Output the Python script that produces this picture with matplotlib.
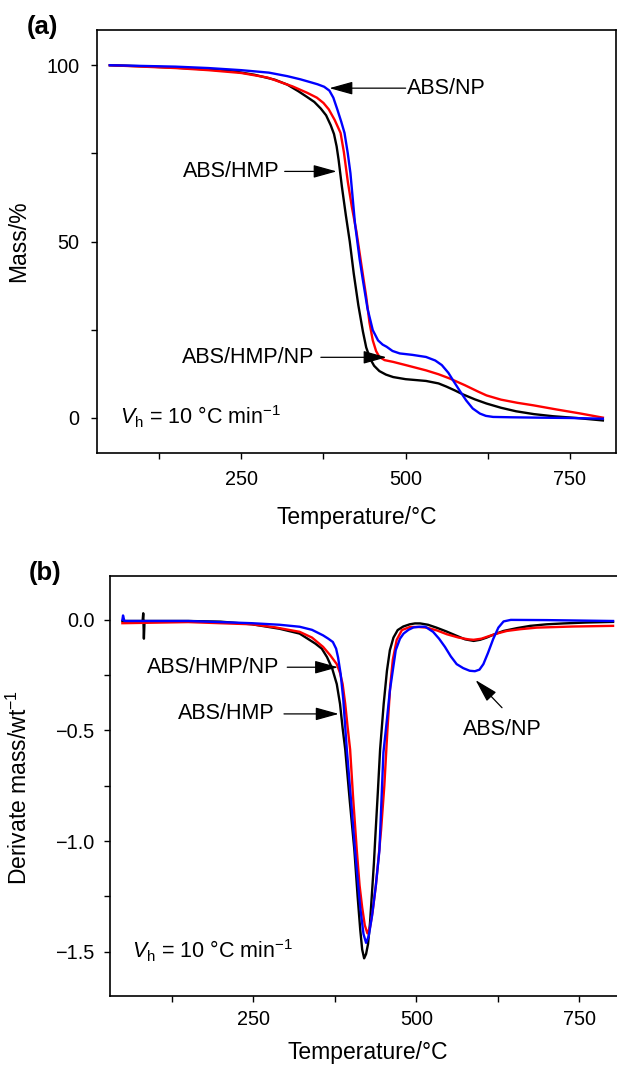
import matplotlib
matplotlib.use("Agg")
import matplotlib.pyplot as plt
from matplotlib.ticker import FixedLocator

plt.rcParams['font.family'] = ['Liberation Sans', 'DejaVu Sans']
plt.rcParams['mathtext.fontset'] = 'custom'
plt.rcParams['mathtext.rm'] = 'Liberation Sans'
plt.rcParams['mathtext.it'] = 'Liberation Sans:italic'
plt.rcParams['mathtext.bf'] = 'Liberation Sans:bold'

# ---- (a) TGA mass curves ----
t_hmp_a = [50, 100, 150, 200, 241, 270, 301, 320, 337, 350, 361, 371, 379, 386, 391, 395,
           398, 403, 409, 415, 421, 428, 435, 440, 446, 452, 460, 470, 481, 500, 531, 550,
           562, 575, 587, 605, 623, 645, 668, 695, 724, 760, 800]
m_hmp = [100, 99.7, 99.3, 98.8, 98.2, 97.3, 95.9, 94.5, 92.6, 91, 89.6, 87.7, 85.8, 83,
         80.5, 77, 73.2, 65.6, 57.5, 50, 41, 32, 24.5, 20, 16.8, 14.8, 13.3, 12.3, 11.6, 11,
         10.5, 9.8, 8.9, 7.8, 6.7, 5.3, 4.1, 2.9, 1.9, 1.1, 0.5, 0, -0.7]

t_hmpnp_a = [50, 100, 150, 200, 250, 290, 328, 350, 365, 375, 383, 392, 401, 406, 412, 418,
             425, 433, 440, 445, 450, 455, 460, 468, 481, 500, 531, 550, 567, 590, 610, 623,
             645, 670, 694, 730, 765, 800]
m_hmpnp = [100, 99.6, 99.2, 98.6, 97.8, 96.5, 94, 92.2, 90.8, 89.3, 87.5, 84.5, 80.8, 75.4,
           67, 60, 53, 43, 34.4, 27, 22, 19, 17.3, 16.4, 15.9, 15, 13.5, 12.4, 11.2, 9.3, 7.5,
           6.4, 5.2, 4.3, 3.6, 2.4, 1.3, 0.1]

t_np_a = [50, 100, 150, 200, 250, 292, 320, 340, 355, 366, 376, 384, 390, 396, 402, 407,
          412, 416, 423, 430, 435, 442, 450, 458, 465, 471, 480, 491, 510, 531, 545, 555,
          565, 572, 582, 592, 602, 613, 622, 633, 660, 700, 750, 800]
m_np = [100, 99.8, 99.6, 99.2, 98.6, 97.9, 96.9, 96, 95.2, 94.6, 93.9, 92.8, 90.8, 87.5, 84,
        80.8, 75, 69.4, 55, 45, 39, 31, 24.9, 22, 20.8, 20.2, 19, 18.3, 17.9, 17.3, 16.3, 15,
        12.8, 10.7, 7.8, 5, 2.7, 1.25, 0.6, 0.3, 0.2, 0.1, 0, -0.2]

# ---- (b) DTG curves ----
t_hmp_b = [49, 80, 81, 82, 83, 150, 200, 248, 290, 321, 345, 355, 363, 371, 378, 383, 387,
           391, 398, 405, 410, 414, 417, 420, 423, 426, 429, 432, 435, 437, 441, 444.5, 450,
           455, 459.5, 465, 471.5, 480, 490, 498, 506, 518, 531, 546, 562, 575, 588, 598,
           608, 620, 634, 655, 675, 700, 726, 760, 802]
d_hmp = [-0.005, -0.005, 0.03, -0.085, -0.005, -0.005, -0.008, -0.02, -0.04, -0.062, -0.107,
         -0.13, -0.168, -0.22, -0.29, -0.38, -0.49, -0.586, -0.82, -1.04, -1.25, -1.40,
         -1.49, -1.53, -1.51, -1.465, -1.37, -1.236, -1.1, -0.99, -0.78, -0.586, -0.38,
         -0.23, -0.137, -0.08, -0.046, -0.03, -0.02, -0.016, -0.016, -0.022, -0.035, -0.052,
         -0.072, -0.088, -0.095, -0.09, -0.08, -0.065, -0.05, -0.037, -0.027, -0.02, -0.016,
         -0.012, -0.009]

t_hmpnp_b = [49, 150, 248, 284, 321, 340, 357, 368, 378, 383, 387, 391, 394.5, 398.5, 403,
             408.7, 413, 417, 421, 425, 429, 433, 438, 442, 446, 451, 455.7, 460, 464, 470,
             478, 490.5, 503, 516, 532, 547, 565, 580, 588, 600, 613, 626, 639, 660, 685,
             740, 802]
d_hmpnp = [-0.015, -0.01, -0.02, -0.034, -0.054, -0.08, -0.122, -0.16, -0.2, -0.24, -0.29,
           -0.38, -0.48, -0.586, -0.8, -1.04, -1.2, -1.30, -1.38, -1.417, -1.39, -1.32, -1.2,
           -1.08, -0.95, -0.75, -0.5, -0.3, -0.18, -0.09, -0.046, -0.032, -0.032, -0.035,
           -0.048, -0.065, -0.08, -0.088, -0.09, -0.085, -0.072, -0.06, -0.05, -0.042,
           -0.035, -0.03, -0.027]

t_np_b = [49, 50, 52, 60, 150, 248, 290, 321, 340, 357, 365, 372, 377, 380, 384, 388, 393.4,
          400, 406, 414, 419, 423, 427, 432, 438, 443.5, 449.6, 455, 459.5, 468.5, 475,
          480.5, 488, 495.7, 505, 513.8, 525.8, 535, 544, 553, 562, 572, 582, 590, 597, 603,
          610, 618, 626, 634, 645, 700, 802]
d_np = [0.0, 0.02, -0.005, -0.005, -0.005, -0.015, -0.022, -0.031, -0.045, -0.07, -0.085,
        -0.10, -0.13, -0.17, -0.245, -0.36, -0.586, -0.82, -1.04, -1.30, -1.42, -1.46, -1.43,
        -1.34, -1.2, -1.04, -0.6, -0.45, -0.32, -0.137, -0.085, -0.062, -0.045, -0.034,
        -0.031, -0.031, -0.054, -0.085, -0.122, -0.165, -0.2, -0.218, -0.23, -0.232, -0.225,
        -0.2, -0.15, -0.087, -0.035, -0.007, 0.0, -0.001, -0.005]

x_major = [250, 500, 750]
x_minor = [125, 375, 625]

arrow = dict(arrowstyle='-|>,head_length=0.72,head_width=0.2', mutation_scale=20,
             color='black', lw=0.9, shrinkA=0, shrinkB=0)
lw = 1.7
tick_fs = 14.3
label_fs = 16.5
note_fs = 15.5
vh = r'$V_{\mathrm{h}}$ = 10 °C min$^{-1}$'

fig = plt.figure(figsize=(6.17, 10.66), dpi=100)

# panel (a)
ax1 = fig.add_axes([0.1567, 0.5748, 0.8417, 0.3971])
ax1.plot(t_hmp_a, m_hmp, color='black', lw=lw)
ax1.plot(t_hmpnp_a, m_hmpnp, color='#ff0000', lw=lw)
ax1.plot(t_np_a, m_np, color='#0000ff', lw=lw)
ax1.set_xlim(30, 820)
ax1.set_ylim(-10, 110)
ax1.set_yticks([0, 50, 100])
ax1.yaxis.set_minor_locator(FixedLocator([25, 75]))
ax1.set_xticks(x_major)
ax1.xaxis.set_minor_locator(FixedLocator(x_minor))
ax1.tick_params(axis='y', which='both', direction='out', length=4.5, width=1, pad=8.0, labelsize=tick_fs)
ax1.tick_params(axis='x', which='both', direction='out', length=4.5, width=1, pad=7.5, labelsize=tick_fs)
ax1.set_xlabel('Temperature/°C', fontsize=label_fs)
ax1.set_ylabel('Mass/%', fontsize=label_fs)
ax1.xaxis.set_label_coords(0.5, -0.125)
ax1.yaxis.set_label_coords(-0.128, 0.502)
for s in ax1.spines.values():
    s.set_linewidth(1.2)

ax1.annotate('', xy=(384, 93.5), xytext=(500, 93.5), arrowprops=arrow)
ax1.text(501.5, 93.5, 'ABS/NP', fontsize=note_fs, ha='left', va='center')
ax1.annotate('', xy=(395, 69.9), xytext=(316, 69.9), arrowprops=arrow)
ax1.text(308, 69.9, 'ABS/HMP', fontsize=note_fs, ha='right', va='center')
ax1.annotate('', xy=(471, 17.2), xytext=(371, 17.2), arrowprops=arrow)
ax1.text(360.8, 17.2, 'ABS/HMP/NP', fontsize=note_fs, ha='right', va='center')
ax1.text(64.8, 0.4, vh, fontsize=note_fs, ha='left', va='center')

# panel (b)
ax2 = fig.add_axes([0.1783, 0.0657, 0.8343, 0.3943])
ax2.plot(t_hmp_b, d_hmp, color='black', lw=lw)
ax2.plot(t_hmpnp_b, d_hmpnp, color='#ff0000', lw=lw)
ax2.plot(t_np_b, d_np, color='#0000ff', lw=lw)
ax2.set_xlim(30, 820)
ax2.set_ylim(-1.7, 0.2)
ax2.set_yticks([0.0, -0.5, -1.0, -1.5])
ax2.yaxis.set_minor_locator(FixedLocator([-0.25, -0.75, -1.25]))
ax2.set_xticks(x_major)
ax2.xaxis.set_minor_locator(FixedLocator(x_minor))
ax2.tick_params(axis='y', which='both', direction='out', length=4.5, width=1, pad=6.8, labelsize=tick_fs)
ax2.tick_params(axis='x', which='both', direction='out', length=4.5, width=1, pad=5.5, labelsize=tick_fs)
ax2.set_xlabel('Temperature/°C', fontsize=label_fs)
ax2.set_ylabel('Derivate mass/wt$^{-1}$', fontsize=label_fs)
ax2.xaxis.set_label_coords(0.5, -0.108)
ax2.yaxis.set_label_coords(-0.151, 0.496)
for s in ax2.spines.values():
    s.set_linewidth(1.2)

ax2.annotate('', xy=(380, -0.214), xytext=(302, -0.214), arrowprops=arrow)
ax2.text(290, -0.214, 'ABS/HMP/NP', fontsize=note_fs, ha='right', va='center')
ax2.annotate('', xy=(381, -0.425), xytext=(297, -0.425), arrowprops=arrow)
ax2.text(282.5, -0.425, 'ABS/HMP', fontsize=note_fs, ha='right', va='center')
ax2.annotate('', xy=(591, -0.272), xytext=(631.6, -0.397), arrowprops=arrow)
ax2.text(631.6, -0.496, 'ABS/NP', fontsize=note_fs, ha='center', va='center')
ax2.text(63.6, -1.497, vh, fontsize=note_fs, ha='left', va='center')

fig.text(42 / 617, 1 - 27 / 1066, '(a)', fontsize=18.5, fontweight='bold', ha='center', va='center')
fig.text(45 / 617, 1 - 573 / 1066, '(b)', fontsize=18.5, fontweight='bold', ha='center', va='center')

fig.savefig('out.png', dpi=100)
